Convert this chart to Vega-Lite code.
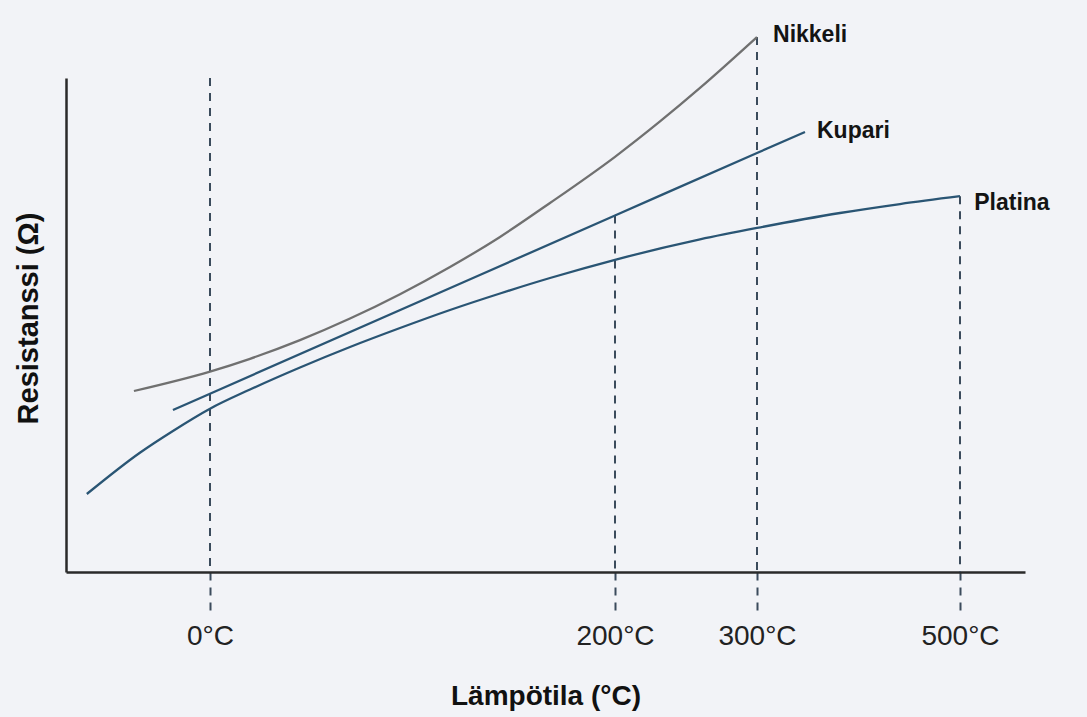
{
  "$schema": "https://vega.github.io/schema/vega-lite/v6.json",
  "width": 959,
  "height": 494,
  "autosize": {"type": "none"},
  "padding": {"left": 66, "top": 78, "right": 62, "bottom": 145},
  "background": "#f2f3f7",
  "config": {"view": {"stroke": null}, "font": "Liberation Sans"},
  "datasets": {
    "kurvat": [
      {"metalli": "Nikkeli", "lampotila": -37.5, "resistanssi": 36.64},
      {"metalli": "Nikkeli", "lampotila": 0, "resistanssi": 40.57},
      {"metalli": "Nikkeli", "lampotila": 19.75, "resistanssi": 43.16},
      {"metalli": "Nikkeli", "lampotila": 44.44, "resistanssi": 46.94},
      {"metalli": "Nikkeli", "lampotila": 69.14, "resistanssi": 51.3},
      {"metalli": "Nikkeli", "lampotila": 93.83, "resistanssi": 56.23},
      {"metalli": "Nikkeli", "lampotila": 118.52, "resistanssi": 61.74},
      {"metalli": "Nikkeli", "lampotila": 143.21, "resistanssi": 67.83},
      {"metalli": "Nikkeli", "lampotila": 167.9, "resistanssi": 74.7},
      {"metalli": "Nikkeli", "lampotila": 200, "resistanssi": 84.05},
      {"metalli": "Nikkeli", "lampotila": 231.69, "resistanssi": 91.21},
      {"metalli": "Nikkeli", "lampotila": 259.86, "resistanssi": 98.0},
      {"metalli": "Nikkeli", "lampotila": 300, "resistanssi": 108.3},
      {"metalli": "Kupari", "lampotila": -18.27, "resistanssi": 32.79},
      {"metalli": "Kupari", "lampotila": 0, "resistanssi": 36.09},
      {"metalli": "Kupari", "lampotila": 200, "resistanssi": 72.17},
      {"metalli": "Kupari", "lampotila": 300, "resistanssi": 84.82},
      {"metalli": "Kupari", "lampotila": 347.29, "resistanssi": 89.07},
      {"metalli": "Platina", "lampotila": -60.74, "resistanssi": 15.79},
      {"metalli": "Platina", "lampotila": -34.57, "resistanssi": 24.15},
      {"metalli": "Platina", "lampotila": -18.27, "resistanssi": 28.56},
      {"metalli": "Platina", "lampotila": 0, "resistanssi": 33.06},
      {"metalli": "Platina", "lampotila": 19.75, "resistanssi": 36.94},
      {"metalli": "Platina", "lampotila": 44.44, "resistanssi": 41.4},
      {"metalli": "Platina", "lampotila": 69.14, "resistanssi": 45.55},
      {"metalli": "Platina", "lampotila": 93.83, "resistanssi": 49.39},
      {"metalli": "Platina", "lampotila": 118.52, "resistanssi": 53.04},
      {"metalli": "Platina", "lampotila": 143.21, "resistanssi": 56.38},
      {"metalli": "Platina", "lampotila": 167.9, "resistanssi": 59.51},
      {"metalli": "Platina", "lampotila": 200, "resistanssi": 63.2},
      {"metalli": "Platina", "lampotila": 259.86, "resistanssi": 67.33},
      {"metalli": "Platina", "lampotila": 300, "resistanssi": 69.64},
      {"metalli": "Platina", "lampotila": 381.77, "resistanssi": 72.67},
      {"metalli": "Platina", "lampotila": 440.89, "resistanssi": 74.49},
      {"metalli": "Platina", "lampotila": 500, "resistanssi": 76.07}
    ],
    "viivat": [
      {"lampotila": 0, "yla": 100},
      {"lampotila": 200, "yla": 72.17},
      {"lampotila": 300, "yla": 108.3},
      {"lampotila": 500, "yla": 76.07}
    ],
    "nimet": [
      {"metalli": "Nikkeli", "lampotila": 315.8, "resistanssi": 108.7},
      {"metalli": "Kupari", "lampotila": 359.1, "resistanssi": 89.37},
      {"metalli": "Platina", "lampotila": 514, "resistanssi": 74.7}
    ]
  },
  "layer": [
    {
      "data": {"name": "viivat"},
      "mark": {"type": "rule", "strokeDash": [8, 7], "strokeWidth": 2, "color": "#3b4b5c"},
      "encoding": {
        "x": {
          "field": "lampotila",
          "type": "quantitative",
          "scale": {"domain": [-71, 0, 200, 300, 500, 564], "range": [0, 144, 549, 691, 894, 959], "nice": false, "zero": false},
          "axis": {
            "values": [0, 200, 300, 500],
            "labelExpr": "datum.value + '°C'",
            "grid": false,
            "domainColor": "#2a2a2a",
            "domainWidth": 2.5,
            "ticks": true,
            "tickSize": 38,
            "tickWidth": 2,
            "tickColor": "#3b4b5c",
            "tickDash": [8, 7],
            "labelPadding": 12,
            "labelFontSize": 28,
            "labelColor": "#222222",
            "labelFont": "Liberation Sans",
            "title": "Lämpötila (°C)",
            "titleFontSize": 28,
            "titleFontWeight": "bold",
            "titleColor": "#111111",
            "titleFont": "Liberation Sans",
            "titlePadding": 32
          }
        },
        "y": {
          "field": "yla",
          "type": "quantitative",
          "scale": {"domain": [0, 100], "nice": false, "zero": true},
          "axis": {
            "grid": false,
            "ticks": false,
            "labels": false,
            "domainColor": "#2a2a2a",
            "domainWidth": 2.5,
            "title": "Resistanssi (Ω)",
            "titleFontSize": 29,
            "titleFontWeight": "bold",
            "titleColor": "#111111",
            "titleFont": "Liberation Sans",
            "titlePadding": 23,
            "titleY": 240
          }
        },
        "y2": {"datum": 0}
      }
    },
    {
      "data": {"name": "kurvat"},
      "mark": {"type": "line", "interpolate": "monotone", "strokeWidth": 2.3},
      "encoding": {
        "x": {"field": "lampotila", "type": "quantitative"},
        "y": {"field": "resistanssi", "type": "quantitative"},
        "detail": {"field": "metalli"},
        "color": {
          "field": "metalli",
          "type": "nominal",
          "scale": {"domain": ["Kupari", "Nikkeli", "Platina"], "range": ["#2a5574", "#707070", "#2a5574"]},
          "legend": null
        }
      }
    },
    {
      "data": {"name": "nimet"},
      "mark": {"type": "text", "align": "left", "baseline": "middle", "fontWeight": "bold", "fontSize": 23, "color": "#141414", "font": "Liberation Sans"},
      "encoding": {
        "x": {"field": "lampotila", "type": "quantitative"},
        "y": {"field": "resistanssi", "type": "quantitative"},
        "text": {"field": "metalli"}
      }
    }
  ]
}
